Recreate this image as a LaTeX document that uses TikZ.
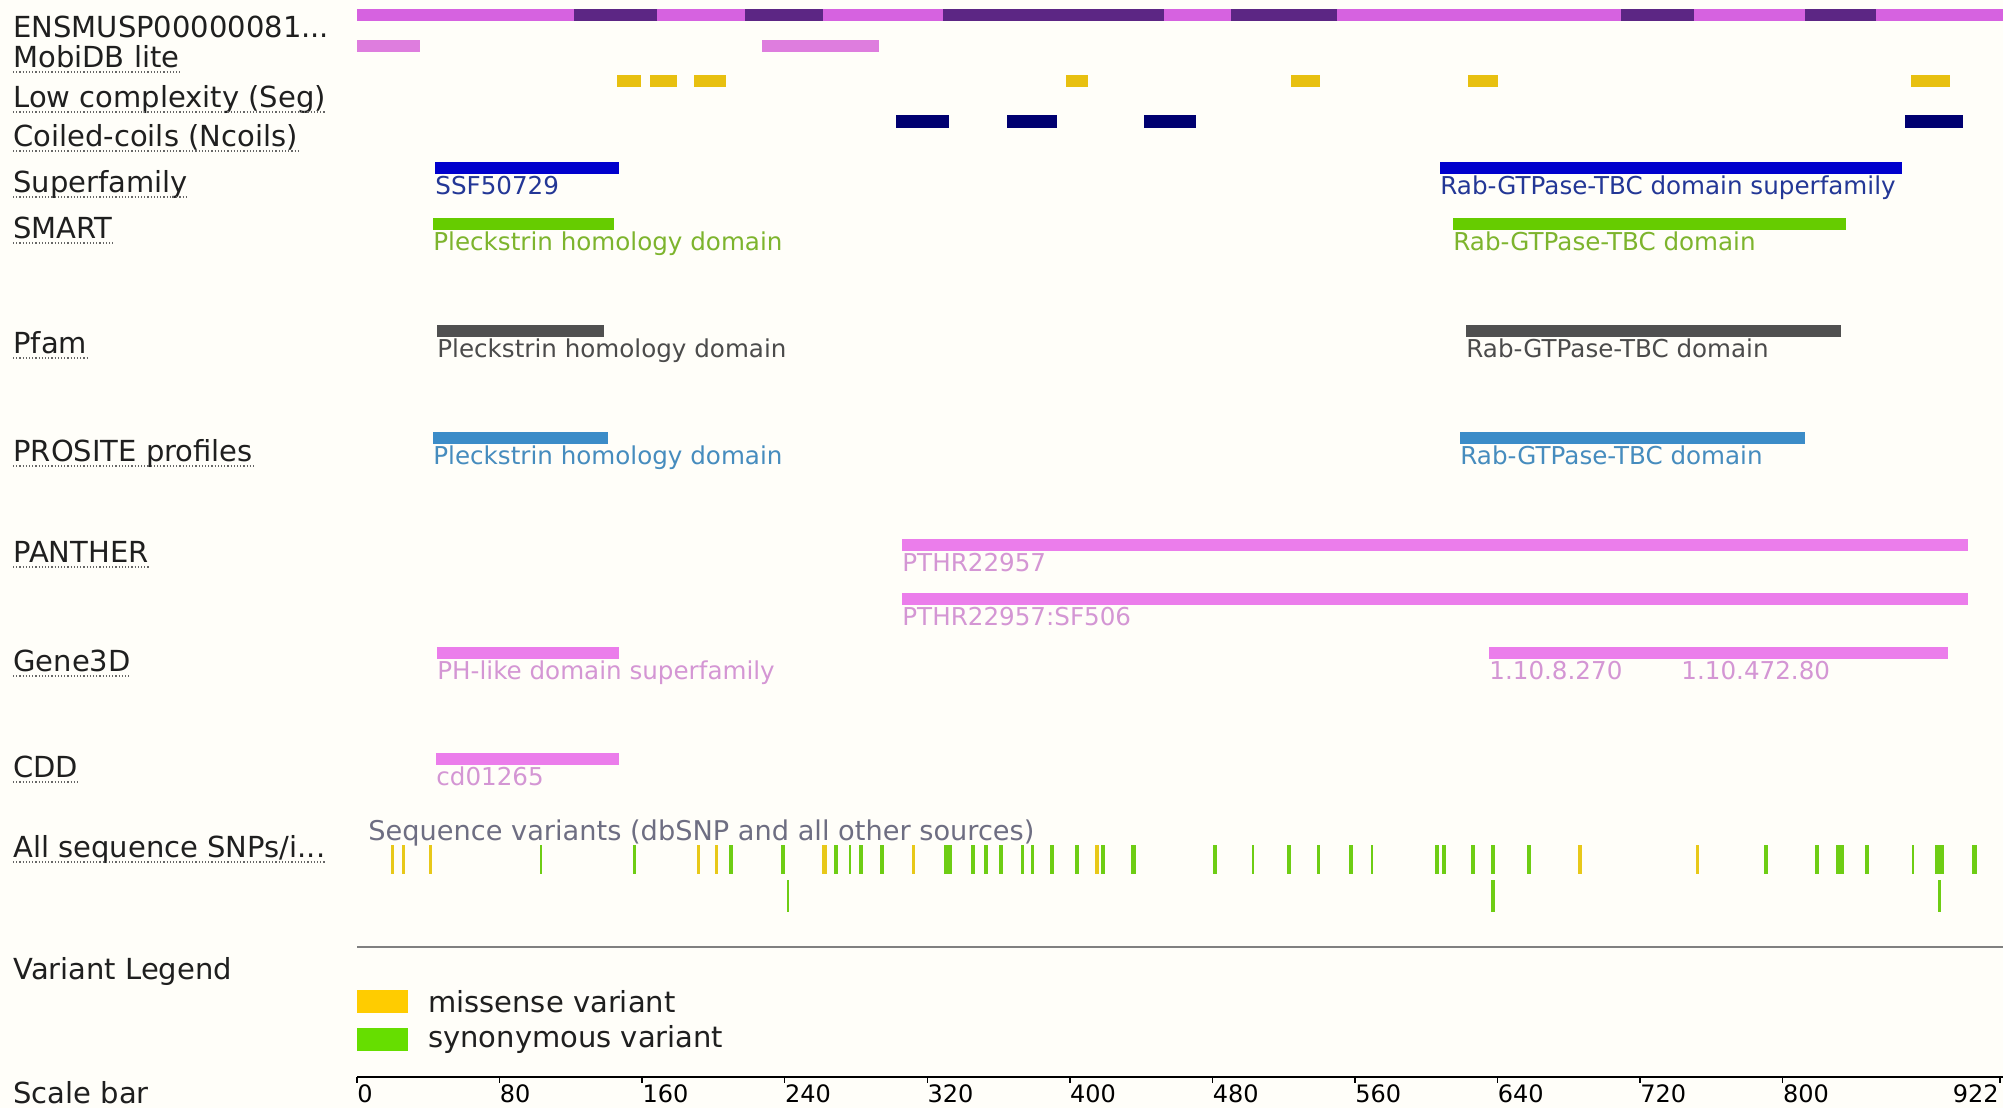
\documentclass[tikz,border=0pt]{standalone}
\usepackage{fontspec}
\setmainfont{DejaVu Sans}
\usetikzlibrary{positioning, calc}
\definecolor{bgCream}{RGB}{255,254,249}
\definecolor{protLight}{RGB}{214,98,224}
\definecolor{protDark}{RGB}{92,38,132}
\definecolor{mobiC}{RGB}{222,125,222}
\definecolor{lowcC}{RGB}{232,192,16}
\definecolor{ncoilC}{RGB}{0,0,112}
\definecolor{sfamBar}{RGB}{0,0,205}
\definecolor{sfamTxt}{RGB}{35,55,150}
\definecolor{smartBar}{RGB}{102,204,0}
\definecolor{smartTxt}{RGB}{125,180,45}
\definecolor{pfamBar}{RGB}{80,80,80}
\definecolor{pfamTxt}{RGB}{75,75,75}
\definecolor{prositeBar}{RGB}{60,140,200}
\definecolor{prositeTxt}{RGB}{70,140,190}
\definecolor{pinkBar}{RGB}{235,125,235}
\definecolor{pinkTxt}{RGB}{212,150,212}
\definecolor{seqGray}{RGB}{110,110,130}
\definecolor{snpMis}{RGB}{232,200,25}
\definecolor{snpSyn}{RGB}{110,205,20}
\definecolor{misBox}{RGB}{255,204,0}
\definecolor{synBox}{RGB}{102,222,0}

\begin{document}
\begin{tikzpicture}[
    x=0.5pt, y=-0.5pt,
    trklabel/.style={anchor=base west, inner sep=0pt, font=\fontsize{14.5}{16}\selectfont, text=black!88},
    featlabel/.style={anchor=base west, inner sep=0pt, font=\fontsize{12.3}{14}\selectfont},
    ticklab/.style={anchor=base west, inner sep=0pt, font=\fontsize{12}{14}\selectfont},
    underl/.style={densely dotted, line width=0.6pt, black!60},
    legbox/.style={rectangle, inner sep=0pt, minimum width=25.5pt, minimum height=11.5pt},
    legline/.style={line width=1pt, black!50},
    scaleline/.style={line width=1pt, black}
]

\fill[bgCream] (0,0) rectangle (2003,1108);
\useasboundingbox (0,0) rectangle (2003,1108);

% protein
\fill[protLight] (357,9) rectangle (2003,21);
\foreach \a/\b in {574/657, 745/823, 943/1164, 1231/1337, 1621/1694, 1805/1876}
    \fill[protDark] (\a,9) rectangle (\b,21);

% track labels
\node[trklabel] (lab-prot) at (13,37) {ENSMUSP00000081...};
\foreach \id/\yy/\txt in {mobi/67/MobiDB lite, lowc/107/Low complexity (Seg),
    ncoil/146/Coiled-coils (Ncoils), sfam/192/Superfamily, smart/238/SMART,
    pfam/353/Pfam, prosite/461/PROSITE profiles, panther/562/PANTHER,
    gene3d/671/Gene3D, cdd/777/CDD, snp/857/{All sequence SNPs/i...}}
{
    \node[trklabel] (lab-\id) at (13,\yy) {\txt};
    \draw[underl] ([yshift=-2.5pt]lab-\id.base west) -- ([yshift=-2.5pt]lab-\id.base east);
}

% MobiDB, Seg, Ncoils
\foreach \a/\b in {357/420, 762/879}
    \fill[mobiC] (\a,40) rectangle (\b,52);
\foreach \a/\b in {617/641, 650/677, 694/726, 1066/1088, 1291/1320, 1468/1498, 1911/1950}
    \fill[lowcC] (\a,75) rectangle (\b,87);
\foreach \a/\b in {896/949, 1007/1057, 1144/1196, 1905/1963}
    \fill[ncoilC] (\a,115) rectangle (\b,128);

% domains
\foreach \a/\b/\yy/\cl/\txt [count=\i] in {
    435/619/162/sfam/SSF50729,
    1440/1902/162/sfam/Rab-GTPase-TBC domain superfamily,
    433/614/218/smart/Pleckstrin homology domain,
    1453/1846/218/smart/Rab-GTPase-TBC domain,
    437/604/325/pfam/Pleckstrin homology domain,
    1466/1841/325/pfam/Rab-GTPase-TBC domain,
    433/608/432/prosite/Pleckstrin homology domain,
    1460/1805/432/prosite/Rab-GTPase-TBC domain,
    902/1968/539/pink/PTHR22957,
    902/1968/593/pink/PTHR22957:SF506,
    437/619/647/pink/PH-like domain superfamily,
    1489/1948/647/pink/1.10.8.270,
    436/619/753/pink/cd01265}
{
    \fill[\cl Bar] (\a,\yy) rectangle (\b,\yy+12);
    \node[featlabel, text=\cl Txt] (feat-\i) at (\a,\yy+32) {\txt};
}
\node[featlabel, text=pinkTxt] (feat-gene3d-b) at (1681,679) {1.10.472.80};

% variants
\node[featlabel, text=seqGray, font=\fontsize{13.6}{15}\selectfont] (snp-title) at (368,840) {Sequence variants (dbSNP and all other sources)};
\foreach \xx/\w/\cl in {392/3/snpMis, 403/3/snpMis, 430/3/snpMis, 541/2/snpSyn,
    634/3/snpSyn, 698/3/snpMis, 716/3/snpMis, 731/4/snpSyn, 783/4/snpSyn,
    824/5/snpMis, 836/4/snpSyn, 850/2/snpSyn, 861/4/snpSyn, 882/4/snpSyn,
    913/3/snpMis, 948/8/snpSyn, 973/4/snpSyn, 986/4/snpSyn, 1001/4/snpSyn,
    1022/3/snpSyn, 1032/3/snpSyn, 1052/4/snpSyn, 1077/4/snpSyn, 1097/4/snpMis,
    1103/4/snpSyn, 1133/5/snpSyn, 1215/4/snpSyn, 1253/2/snpSyn, 1289/4/snpSyn,
    1318/3/snpSyn, 1351/4/snpSyn, 1372/2/snpSyn, 1437/4/snpSyn, 1444/4/snpSyn,
    1473/4/snpSyn, 1493/4/snpSyn, 1529/4/snpSyn, 1580/4/snpMis, 1697/3/snpMis,
    1766/4/snpSyn, 1817/4/snpSyn, 1840/8/snpSyn, 1867/4/snpSyn, 1913/2/snpSyn,
    1939/9/snpSyn, 1974/5/snpSyn}
    \fill[\cl] ({\xx-\w/2},845) rectangle ({\xx+\w/2},874);
\foreach \xx/\w in {788/2, 1493/4, 1939/3}
    \fill[snpSyn] ({\xx-\w/2},880) rectangle ({\xx+\w/2},912);

% legend
\draw[legline] (357,947) -- (2003,947);
\node[trklabel] (lab-legend) at (13,979) {Variant Legend};
\node[legbox, fill=misBox, anchor=north west] (box-mis) at (357,990) {};
\node[trklabel, right=9.5pt of box-mis] (leg-mis) {missense variant};
\node[legbox, fill=synBox, anchor=north west] (box-syn) at (357,1028) {};
\node[trklabel, right=9.5pt of box-syn] (leg-syn) {synonymous variant};

% scale bar
\node[trklabel] (lab-scale) at (13,1103) {Scale bar};
\draw[scaleline] (357,1077) -- (2003,1077);
\foreach \t in {0,80,...,800}
{
    \draw[line width=0.7pt] ({357+\t*1.782},1077) -- ++(0,6);
    \node[ticklab] (tick-\t) at ({357+\t*1.782},1102) {\t};
}
\draw[line width=0.7pt] (2000,1077) -- ++(0,6);
\node[ticklab, anchor=base east] (tick-end) at (1999,1102) {922};

\end{tikzpicture}
\end{document}
